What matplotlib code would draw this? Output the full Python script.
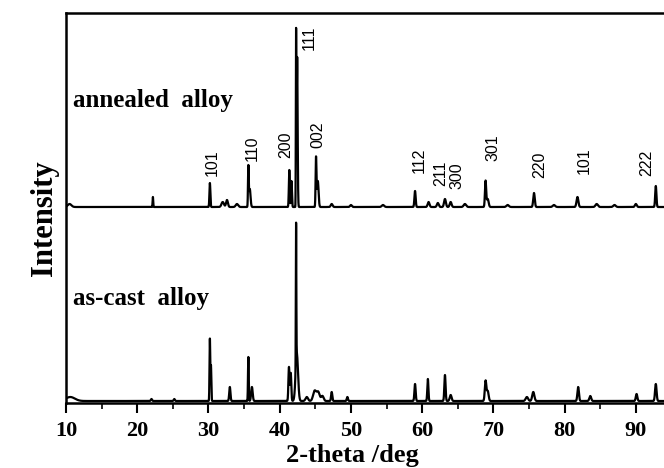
import numpy as np
import matplotlib
matplotlib.use("Agg")
import matplotlib.pyplot as plt
from matplotlib.ticker import MultipleLocator

# ---------------- data ----------------
two_theta_min, two_theta_max, two_theta_step = 10.0, 93.95, 0.01

# annealed alloy: peak position (deg), height (a.u.), FWHM (deg)
annealed_pos = [10.5, 22.2, 30.2, 32.0, 32.6, 34.0, 35.6, 35.8, 41.35, 41.65,
                42.3, 42.45, 45.1, 45.35, 47.3, 50.0, 54.5, 59.0, 60.9, 62.2,
                63.2, 64.0, 66.0, 68.9, 69.2, 72.0, 75.7, 78.5, 81.8, 84.5,
                87.0, 90.0, 92.8]
annealed_h = [3, 10, 24, 5, 7, 3, 39, 18, 37, 26,
              166, 150, 49, 26, 3, 2, 2, 16, 5, 4,
              8, 5, 3, 26, 8, 2, 14, 2, 10, 3,
              2, 3, 21]
annealed_w = [0.6, 0.10, 0.15, 0.4, 0.3, 0.4, 0.12, 0.25, 0.15, 0.15,
              0.08, 0.16, 0.14, 0.25, 0.3, 0.3, 0.4, 0.2, 0.3, 0.3,
              0.3, 0.3, 0.4, 0.2, 0.3, 0.4, 0.25, 0.4, 0.3, 0.4,
              0.4, 0.3, 0.2]
annealed_offset = 196

# as-cast alloy
ascast_pos = [10.6, 22.0, 25.2, 30.2, 30.35, 33.0, 35.6, 36.1, 41.3, 41.55,
              42.3, 42.4, 43.8, 44.9, 45.4, 46.0, 47.3, 49.5, 59.0, 60.8,
              63.2, 64.0, 68.9, 69.2, 74.7, 75.6, 81.9, 83.6, 90.1, 92.8]
ascast_h = [4, 2, 2, 62, 35, 14, 44, 14, 34, 28,
            138, 48, 4, 10, 9, 5, 9, 4, 17, 22,
            26, 6, 20, 10, 4, 9, 14, 5, 7, 17]
ascast_w = [1.5, 0.2, 0.2, 0.12, 0.12, 0.2, 0.12, 0.25, 0.18, 0.18,
            0.08, 0.40, 0.4, 0.5, 0.5, 0.4, 0.2, 0.2, 0.2, 0.18,
            0.2, 0.3, 0.25, 0.3, 0.4, 0.35, 0.25, 0.3, 0.25, 0.25]
ascast_offset = 2

# Miller index labels over the annealed pattern: text, x (deg), y (a.u.)
hkl_text = ["101", "110", "200", "111", "002", "112", "211", "300", "301", "220", "101", "222"]
hkl_x = [30.6, 36.1, 40.8, 44.2, 45.3, 59.6, 62.6, 64.9, 69.9, 76.5, 82.8, 91.5]
hkl_y = [240, 255, 258, 365, 268, 243, 230, 227, 255, 238, 242, 240]

ylim_top = 390

# ---------------- build patterns ----------------
x = np.arange(two_theta_min, two_theta_max, two_theta_step)


def pattern(pos, h, w, offset):
    y = np.full_like(x, float(offset))
    for p, hh, ww in zip(pos, h, w):
        s = ww / 2.3548
        y += hh * np.exp(-0.5 * ((x - p) / s) ** 2)
    return y


y_ann = pattern(annealed_pos, annealed_h, annealed_w, annealed_offset)
y_cast = pattern(ascast_pos, ascast_h, ascast_w, ascast_offset)

# ---------------- figure ----------------
W, H = 664, 468
fig = plt.figure(figsize=(W / 100, H / 100), dpi=100)
ax = fig.add_axes([66 / W, (H - 403) / H, 1 - 66 / W, (403 - 13) / H])

ax.plot(x, y_ann, color="black", lw=1.6)
ax.plot(x, y_cast, color="black", lw=1.6)

ax.set_xlim(two_theta_min, two_theta_max)
ax.set_ylim(0, ylim_top)

serif = ["Liberation Serif", "DejaVu Serif"]
ax.xaxis.set_major_locator(MultipleLocator(10))
ax.xaxis.set_minor_locator(MultipleLocator(5))
ax.tick_params(axis="x", which="major", direction="out", length=7, width=1.5, pad=6)
ax.tick_params(axis="x", which="minor", direction="out", length=4, width=1.2)
ax.set_yticks([])
for lab in ax.get_xticklabels():
    lab.set_fontfamily(serif)
    lab.set_fontweight("bold")
    lab.set_fontsize(16)

for side in ["left", "top", "bottom"]:
    ax.spines[side].set_linewidth(1.8)
ax.spines["right"].set_visible(False)

fig.text(352 / W, 1 / H, "2-theta /deg", ha="center", va="bottom",
         fontfamily=serif, fontweight="bold", fontsize=19)
fig.text(44 / W, 1 - 218 / H, "Intensity", rotation=90, ha="center", va="center",
         fontfamily=serif, fontweight="bold", fontsize=22)

ax.text(11, 291, "annealed  alloy", fontfamily=serif, fontweight="bold", fontsize=18,
        ha="left", va="bottom")
ax.text(11, 93, "as-cast  alloy", fontfamily=serif, fontweight="bold", fontsize=18,
        ha="left", va="bottom")

for t, xx, yy in zip(hkl_text, hkl_x, hkl_y):
    ax.text(xx, yy, t, rotation=90, ha="center", va="center",
            fontfamily=["Liberation Sans", "DejaVu Sans"], fontsize=11.5)

fig.savefig("out.png", dpi=100)
